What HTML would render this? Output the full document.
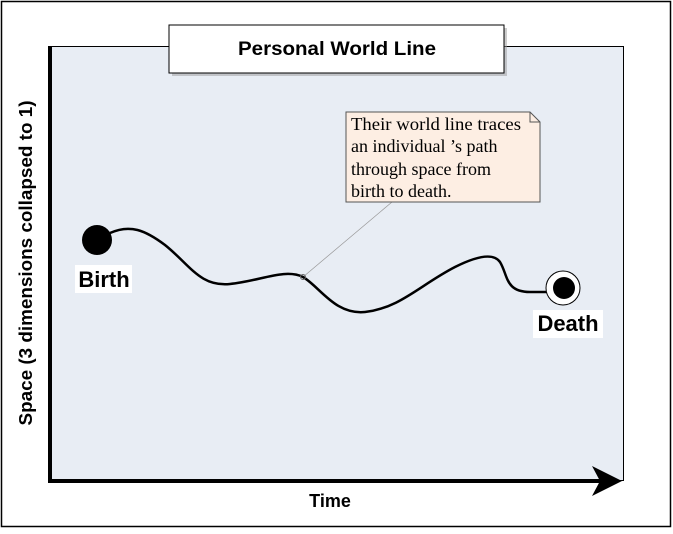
<!DOCTYPE html>
<html><head><meta charset="utf-8"><style>
body{margin:0;background:#fff}
text{font-family:"Liberation Sans",sans-serif}
text.s{font-family:"Liberation Serif",serif;font-size:18px}
</style></head><body>
<svg width="673" height="529" viewBox="0 0 673 529" xmlns="http://www.w3.org/2000/svg">
<rect x="1.5" y="1.5" width="669" height="525" fill="#fff" stroke="#000" stroke-width="1.5"/>
<rect x="50" y="46.5" width="573.5" height="434" fill="#e8edf4" stroke="#000" stroke-width="1"/>
<path d="M50 46 V481 H600" stroke="#000" stroke-width="4" fill="none"/>
<polygon points="622,481 592,466 600,481 592,496" fill="#000"/>
<rect x="172" y="28" width="335" height="48" fill="#999" opacity="0.5"/>
<rect x="169" y="25" width="335" height="48" fill="#fff" stroke="#000"/>
<text x="337" y="55" font-size="19" font-weight="bold" text-anchor="middle" textLength="198" lengthAdjust="spacingAndGlyphs">Personal World Line</text>
<line x1="303" y1="277" x2="392" y2="202" stroke="#999" stroke-width="0.7"/>
<path d="M110 233 C130 224,145 230,165 245 C190 265,200 287,230 284 C260 281,285 268,303 277 C320 287,335 315,365 312 C400 308,420 285,455 267 C475 257,493 252,500 262 C508 275,505 292,530 292 L548 292" stroke="#000" stroke-width="2.5" fill="none"/>
<circle cx="303" cy="277" r="2.5" fill="none" stroke="#666"/>
<circle cx="97" cy="240" r="15" fill="#000"/>
<circle cx="563" cy="288" r="17" fill="#fff" stroke="#000"/>
<circle cx="564" cy="288" r="11" fill="#000"/>
<rect x="75" y="265" width="57" height="28" fill="#fff"/>
<text x="104" y="287" font-size="22" font-weight="bold" text-anchor="middle">Birth</text>
<rect x="533" y="310" width="70" height="28" fill="#fff"/>
<text x="568" y="331" font-size="22" font-weight="bold" text-anchor="middle">Death</text>
<path d="M346 112 H530 L540 122 V202 H346 Z" fill="#fdeee3" stroke="#555"/>
<path d="M530 112 V122 H540" fill="none" stroke="#555"/>
<text class="s" x="351" y="130" textLength="170" lengthAdjust="spacingAndGlyphs">Their world line traces</text>
<text class="s" x="351" y="152">an individual ’s path</text>
<text class="s" x="351" y="175">through space from</text>
<text class="s" x="351" y="197">birth to death.</text>
<text x="330" y="507" font-size="18" font-weight="bold" text-anchor="middle">Time</text>
<text transform="translate(32,263) rotate(-90)" font-size="18" font-weight="bold" text-anchor="middle" textLength="325" lengthAdjust="spacingAndGlyphs">Space (3 dimensions collapsed to 1)</text>
</svg>
</body></html>
